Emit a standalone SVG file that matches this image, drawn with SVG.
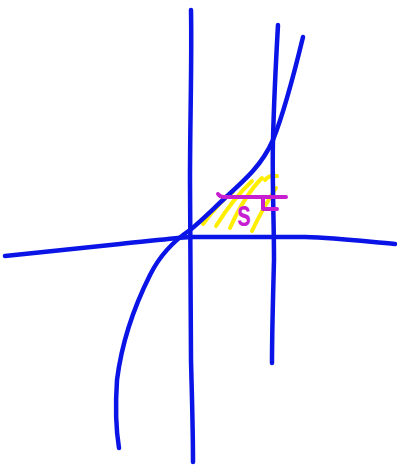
<svg xmlns="http://www.w3.org/2000/svg" width="397" height="467" viewBox="0 0 397 467">
<style>
.b{fill:none;stroke:#0a14e6;stroke-width:4.5;stroke-linecap:round;stroke-linejoin:round}
.y{fill:none;stroke:#ffee00;stroke-width:4;stroke-linecap:round}
.m{fill:none;stroke:#c81ed2;stroke-width:4;stroke-linecap:round;stroke-linejoin:round}
</style>
<rect width="397" height="467" fill="#fff"/>
<g id="hatch">
<path class="y" d="M203,224 C212,212 222,200 233,192"/>
<path class="y" d="M216,226 C226,210 238,194 252,181"/>
<path class="y" d="M230,228 C238,210 248,192 262,178"/>
<path class="y" d="M252,231 C259,216 267,202 276,188"/>
<path class="y" d="M265,180 C268,176 272,175 277,176"/>
</g>
<g id="connectors">
<path class="b" d="M191,10 C192,60 190,120 190,180 C190,240 191,300 191,360 C192,400 193,430 193,462"/>
<path class="b" d="M5,256 C40,252 80,248 120,244 C150,241 175,238 190,237 L305,237 C340,238 370,242 395,244"/>
<path class="b" d="M278,25 C276,60 274,100 273,140 C272,180 274,220 274,260 C273,300 272,330 272,363"/>
<path class="b" d="M303,37 C295,70 285,110 273,140 C262,165 245,180 225,198 C212,210 200,222 190,230 C175,240 160,255 150,275 C135,305 122,340 117,380 C115,410 116,430 119,448"/>
</g>
<g id="label">
<path class="m" d="M218,194 Q220,197 224,197 L286,197"/>
<path class="m" d="M263,197 L263,209 L277,209"/>
<text x="244" y="226" text-anchor="middle" font-family="Liberation Sans, Arial, sans-serif" font-weight="bold" font-size="36" fill="#c81ed2" textLength="14" lengthAdjust="spacingAndGlyphs">s</text>
</g>
</svg>
